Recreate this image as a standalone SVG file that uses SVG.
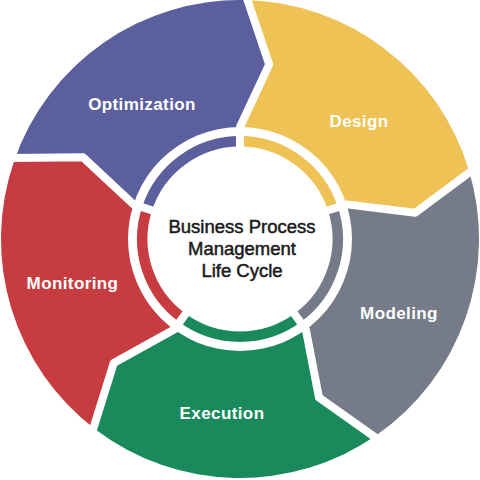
<svg xmlns="http://www.w3.org/2000/svg" width="480" height="480" viewBox="0 0 480 480">
<style>
.lbl{font-family:"Liberation Sans",Arial,sans-serif;font-weight:bold;font-size:17px;fill:#fff;text-anchor:middle;letter-spacing:0.4px}
.ctr{font-family:"Liberation Sans",Arial,sans-serif;font-size:18.5px;fill:#1a1a1a;stroke:#1a1a1a;stroke-width:0.5;text-anchor:middle}
.ring{fill:none;stroke-width:10.5}
.sep{fill:none;stroke:#fff;stroke-width:8;stroke-linejoin:round}
</style>
<rect width="480" height="480" fill="#fff"/>
<g id="segments">
<path id="seg-optimization" fill="#5b5f9d" d="M240,239 L133.48,204.39 L83.00,157.27 L14.29,160.40 A239,239 0 0 1 245.00,0.05 L269.21,64.42 L240,127 Z"/>
<path id="seg-design" fill="#eec254" d="M240,239 L240,127 L269.21,64.42 L245.00,0.05 A239,239 0 0 1 468.80,169.92 L415.06,212.84 L346.52,204.39 Z"/>
<path id="seg-modeling" fill="#757b88" d="M240,239 L346.52,204.39 L415.06,212.84 L468.80,169.92 A239,239 0 0 1 376.36,435.28 L318.98,397.40 L305.83,329.61 Z"/>
<path id="seg-execution" fill="#1a8a5c" d="M240,239 L305.83,329.61 L318.98,397.40 L376.36,435.28 A239,239 0 0 1 95.51,429.38 L113.75,363.06 L174.17,329.61 Z"/>
<path id="seg-monitoring" fill="#c73c40" d="M240,239 L174.17,329.61 L113.75,363.06 L95.51,429.38 A239,239 0 0 1 14.29,160.40 L83.00,157.27 L133.48,204.39 Z"/>
</g>
<circle cx="240" cy="239" r="112" fill="#fff"/>
<g id="ring">
<path class="ring" stroke="#5b5f9d" d="M147.03,208.79 A97.75,97.75 0 0 1 240,141.25"/>
<path class="ring" stroke="#eec254" d="M240,141.25 A97.75,97.75 0 0 1 332.97,208.79"/>
<path class="ring" stroke="#757b88" d="M332.97,208.79 A97.75,97.75 0 0 1 297.46,318.08"/>
<path class="ring" stroke="#1a8a5c" d="M297.46,318.08 A97.75,97.75 0 0 1 182.54,318.08"/>
<path class="ring" stroke="#c73c40" d="M182.54,318.08 A97.75,97.75 0 0 1 147.03,208.79"/>
</g>
<g id="connectors">
<path class="sep" d="M240,151 L240,127 L269.21,64.42 L245.15,-7"/>
<path class="sep" d="M323.69,211.81 L346.52,204.39 L415.06,212.84 L475.50,167.90"/>
<path class="sep" d="M291.73,310.19 L305.83,329.61 L318.98,397.40 L380.35,441.03"/>
<path class="sep" d="M188.27,310.19 L174.17,329.61 L113.75,363.06 L91.28,434.95"/>
<path class="sep" d="M156.31,211.81 L133.48,204.39 L83.00,157.27 L7.68,158.10"/>
</g>
<g id="node-optimization"><text class="lbl" x="142" y="109.5">Optimization</text></g>
<g id="node-design"><text class="lbl" x="359" y="126.5">Design</text></g>
<g id="node-modeling"><text class="lbl" x="399" y="318.5">Modeling</text></g>
<g id="node-execution"><text class="lbl" x="222" y="418.5">Execution</text></g>
<g id="node-monitoring"><text class="lbl" x="72.5" y="289">Monitoring</text></g>
<g id="node-center">
<text class="ctr" x="242" y="232.5">Business Process</text>
<text class="ctr" x="242" y="254.5">Management</text>
<text class="ctr" x="242" y="276.5">Life Cycle</text>
</g>
</svg>
